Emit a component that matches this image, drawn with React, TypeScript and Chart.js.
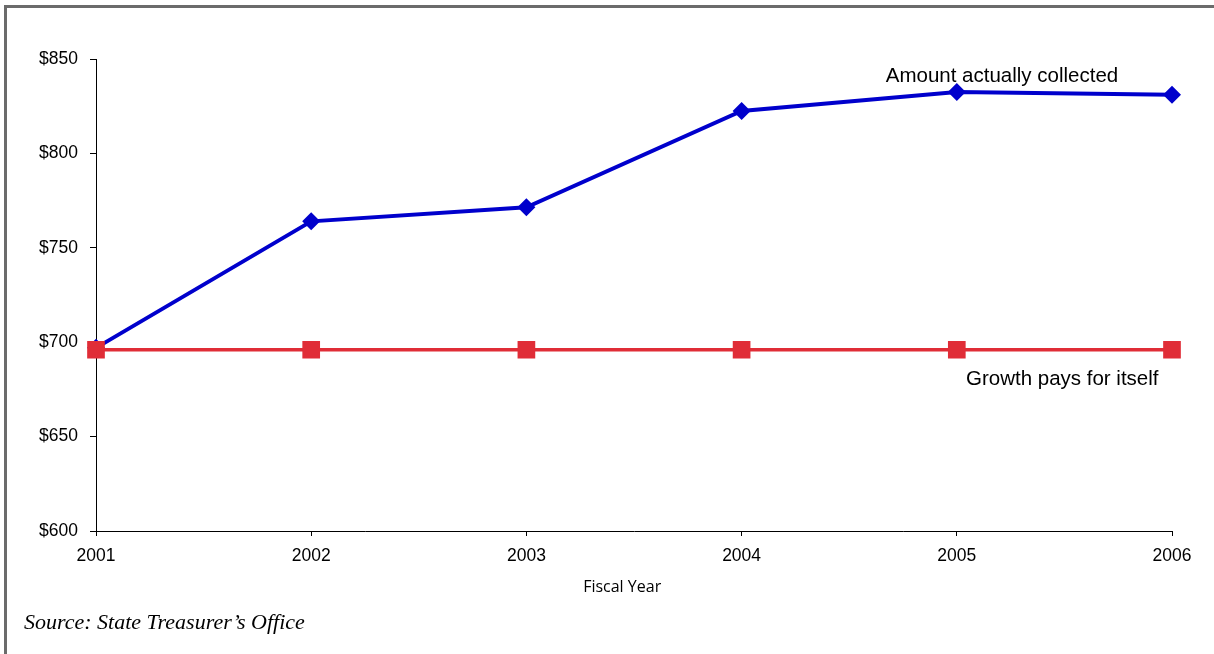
import React, { useEffect, useRef } from "react";
import { Chart, registerables } from "chart.js";

Chart.register(...registerables);

const years = ["2001", "2002", "2003", "2004", "2005", "2006"];
const amountCollected = [697, 764, 771.5, 822.5, 832.5, 831];
const growthPaysForItself = [696, 696, 696, 696, 696, 696];
const yTicks = [600, 650, 700, 750, 800, 850];
const seriesLabels = ["Amount actually collected", "Growth pays for itself"];
const xTitle = "Fiscal Year";
const sourceText = "Source: State Treasurer\u2019s Office";

const BLUE = "#0000cc";
const RED = "#e02d37";

const annotationPlugin = {
  id: "lineLabels",
  afterDatasetsDraw(chart: any) {
    const { ctx, scales } = chart;
    const x = scales.x;
    const y = scales.y;
    ctx.save();
    ctx.fillStyle = "#000";
    ctx.font = "20.5px 'Liberation Sans', Arial, sans-serif";
    ctx.textAlign = "center";
    ctx.textBaseline = "middle";
    ctx.fillText(seriesLabels[0], x.getPixelForValue(4.21), y.getPixelForValue(841));
    ctx.fillText(seriesLabels[1], x.getPixelForValue(4.49), y.getPixelForValue(680.5));
    ctx.font = "16px 'Open Sans', 'Noto Sans', sans-serif";
    ctx.fillText(xTitle, x.getPixelForValue(2.445), 587);
    ctx.restore();
  },
};

export default function App() {
  const ref = useRef<HTMLCanvasElement | null>(null);

  useEffect(() => {
    if (!ref.current) return;
    const tickFont = { family: "'Liberation Sans', Arial, sans-serif", size: 17.5 };
    const chart = new Chart(ref.current, {
      type: "line",
      data: {
        labels: years,
        datasets: [
          {
            label: seriesLabels[1],
            data: growthPaysForItself,
            borderColor: RED,
            backgroundColor: RED,
            borderWidth: 3.5,
            pointStyle: "rect",
            pointRadius: 12.5,
            pointBorderWidth: 0,
            pointBackgroundColor: RED,
            order: 0,
          },
          {
            label: seriesLabels[0],
            data: amountCollected,
            borderColor: BLUE,
            backgroundColor: BLUE,
            borderWidth: 4,
            pointStyle: "rectRot",
            pointRadius: 9,
            pointBorderWidth: 0,
            pointBackgroundColor: BLUE,
            order: 1,
          },
        ],
      },
      options: {
        responsive: false,
        animation: false,
        devicePixelRatio: 1,
        layout: { padding: { top: 59, right: 42, left: 0, bottom: 0 } },
        plugins: {
          legend: { display: false },
          tooltip: { enabled: false },
          title: { display: false },
        },
        scales: {
          x: {
            type: "category",
            offset: false,
            grid: {
              display: true,
              drawOnChartArea: false,
              drawTicks: true,
              tickLength: 5,
              color: "#000",
            },
            border: { display: true, color: "#000", width: 1 },
            ticks: { color: "#000", font: tickFont, padding: 10, maxRotation: 0 },
            afterFit(scale: any) {
              scale.height = 123;
            },
          },
          y: {
            type: "linear",
            min: yTicks[0],
            max: yTicks[yTicks.length - 1],
            afterBuildTicks(scale: any) {
              scale.ticks = yTicks.map((v) => ({ value: v }));
            },
            grid: {
              display: true,
              drawOnChartArea: false,
              drawTicks: true,
              tickLength: 6,
              color: "#000",
            },
            border: { display: true, color: "#000", width: 1 },
            ticks: {
              color: "#000",
              font: tickFont,
              padding: 12,
              callback: (v: any) => "$" + v,
            },
            afterFit(scale: any) {
              scale.width = 96;
            },
          },
        },
      },
      plugins: [annotationPlugin],
    });
    return () => chart.destroy();
  }, []);

  return (
    <div
      style={{
        position: "fixed",
        left: 0,
        top: 0,
        width: 1214,
        height: 654,
        background: "#fff",
        overflow: "hidden",
      }}
    >
      <div
        style={{
          position: "absolute",
          left: 4,
          top: 5,
          width: 1214,
          height: 654,
          borderLeft: "3px solid #6b6b6b",
          borderTop: "3px solid #6b6b6b",
          boxSizing: "border-box",
        }}
      />
      <canvas
        ref={ref}
        width={1214}
        height={654}
        style={{ position: "absolute", left: 0, top: 0, width: 1214, height: 654 }}
      />
      <div
        style={{
          position: "absolute",
          left: 24,
          top: 607,
          fontFamily: "'Liberation Serif', 'DejaVu Serif', serif",
          fontStyle: "italic",
          fontSize: 22,
          lineHeight: "30px",
          color: "#000",
          whiteSpace: "nowrap",
        }}
      >
        {sourceText}
      </div>
    </div>
  );
}
